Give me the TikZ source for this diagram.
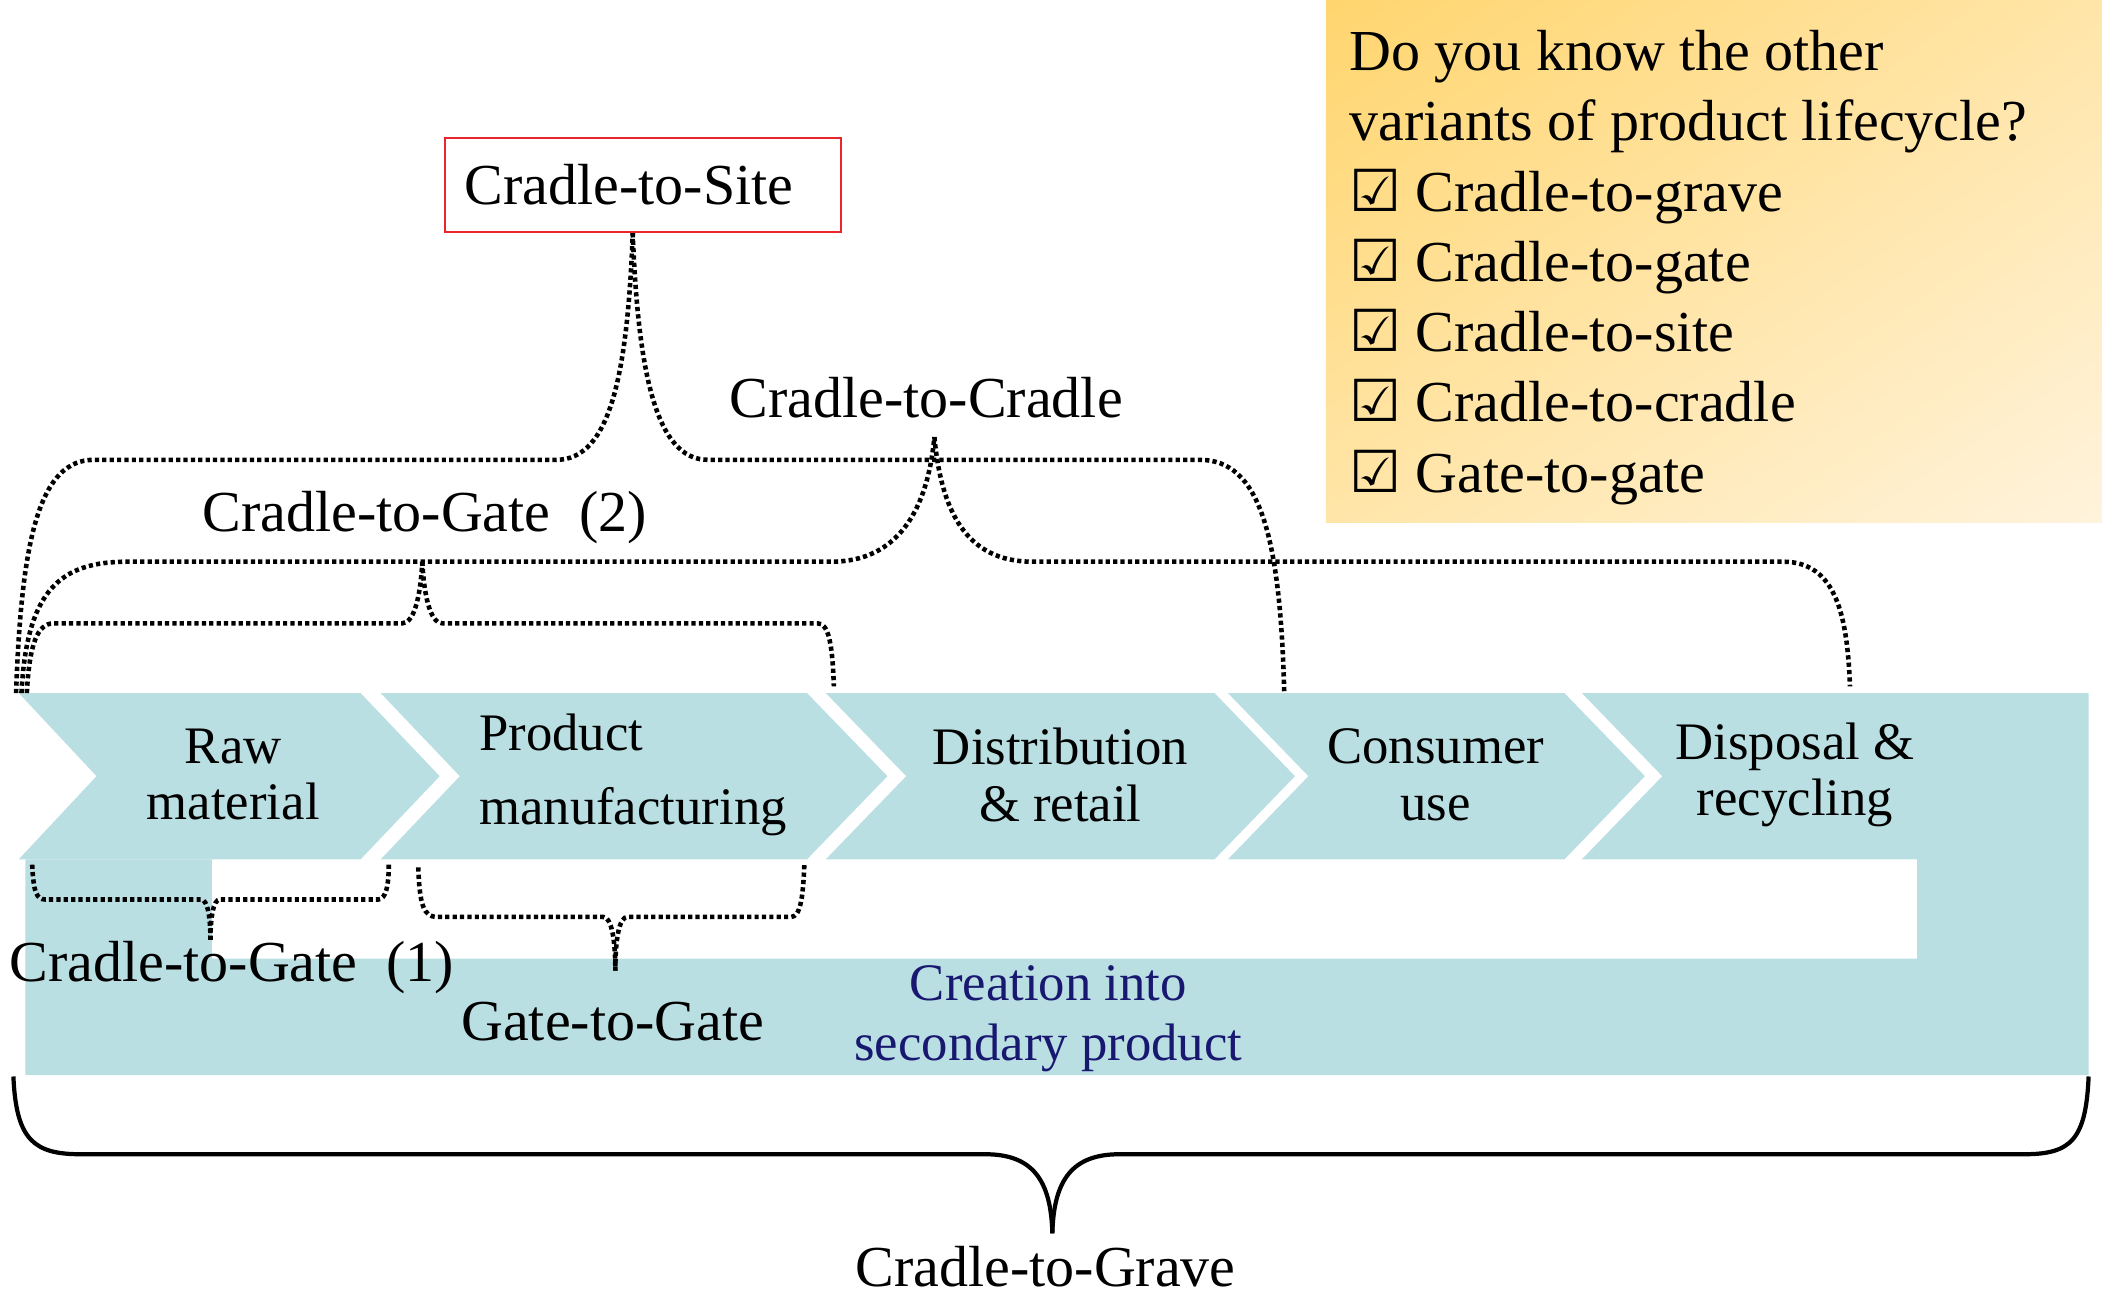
\documentclass[tikz,border=0pt]{standalone}
\usepackage{fontspec}
\setmainfont{Liberation Serif}
\newfontfamily\boxsym{DejaVu Sans}
\usepackage{tikz}
\usetikzlibrary{positioning}
\usetikzlibrary{shadings}
\usepackage{xcolor}
\definecolor{bandteal}{RGB}{186,223,227}
\definecolor{sitered}{RGB}{232,38,44}
\definecolor{navytext}{RGB}{24,24,112}
\definecolor{goldA}{RGB}{255,213,110}
\definecolor{goldB}{RGB}{255,229,168}
\definecolor{goldC}{RGB}{255,243,220}
\tikzset{
  dotbrace/.style={line width=1.3pt, dash pattern=on 1.2pt off 0.9pt},
  lbl/.style={font=\fontsize{16.5}{20}\selectfont, inner sep=0pt},
  stage/.style={font=\fontsize{15}{16}\selectfont, align=center, inner sep=0pt},
}

\begin{document}
\begin{tikzpicture}[x=0.13406mm, y=-0.13406mm]
        \useasboundingbox (0,0) rectangle (1568,969.7);
        % question box
        \shade[upper left=goldA, upper right=goldB, lower left=goldB, lower right=goldC] (989,0) rectangle (1568,390);
        \node[lbl, anchor=north west, align=left] (quiz) at (1006,22) {Do you know the other\\variants of product lifecycle?\\{\boxsym\bfseries ☑} Cradle-to-grave\\{\boxsym\bfseries ☑} Cradle-to-gate\\{\boxsym\bfseries ☑} Cradle-to-site\\{\boxsym\bfseries ☑} Cradle-to-cradle\\{\boxsym\bfseries ☑} Gate-to-gate};
        % life cycle band
        \fill[bandteal] (14,517) -- (269,517) -- (328,579) -- (269,641) -- (14,641) -- (72,579) -- cycle;
        \fill[bandteal] (284,517) -- (602,517) -- (662,579) -- (602,641) -- (284,641) -- (343,579) -- cycle;
        \fill[bandteal] (616,517) -- (906,517) -- (966,579) -- (906,641) -- (616,641) -- (676,579) -- cycle;
        \fill[bandteal] (916,517) -- (1167,517) -- (1227,579) -- (1167,641) -- (916,641) -- (976,579) -- cycle;
        \fill[bandteal] (1180,517) -- (1558,517) -- (1558,802) -- (19,802) -- (19,641) -- (158,641) -- (158,715)
              -- (1430,715) -- (1430,641) -- (1180,641) -- (1240,579) -- cycle;
        \node[stage] (raw) at (174,578) {Raw\\material};
        \node[stage, align=left, font=\fontsize{15}{21}\selectfont, anchor=west] (prod) at (357,578) {Product\\manufacturing};
        \node[stage] (dist) at (791,578) {Distribution\\\& retail};
        \node[stage] (cons) at (1071,578) {Consumer\\use};
        \node[stage] (disp) at (1339,578) {Disposal \&\\recycling};
        \node[stage, text=navytext, font=\fontsize{15}{17}\selectfont] (second) at (782,760) {Creation into\\secondary product};
        % labels
        \node[lbl, draw=sitered, line width=0.7pt, anchor=north west, inner xsep=2mm, text width=35.6mm, minimum height=9.4mm, align=left] (site) at (331,102) {Cradle-to-Site};
        \node[lbl] (ctc) at (691,297) {Cradle-to-Cradle};
        \node[lbl] (gate2) at (317,386) {Cradle-to-Gate\enspace(2)};
        \node[lbl] (gate1) at (173,722) {Cradle-to-Gate\enspace(1)};
        \node[lbl] (g2g) at (457,762) {Gate-to-Gate};
        \node[lbl] (grave) at (780,945) {Cradle-to-Grave};
        % brace tips and ends
        \coordinate (sitetip) at (472,174);
        \coordinate (ctctip) at (697,326);
        \coordinate (gate2tip) at (315,419);
        \coordinate (gate1tip) at (157,701);
        \coordinate (g2gtip) at (459,724);
        \coordinate (gravetip) at (785,920);
        % dotted braces
        \draw[dotbrace] (12,517) .. controls (16,400) and (30,343) .. (70,343) -- (415,343) .. controls (455,343) and (468,280) .. (sitetip);
        \draw[dotbrace] (sitetip) .. controls (476,280) and (490,343) .. (528,343) -- (895,343) .. controls (940,343) and (955,400) .. (958,517);
        \draw[dotbrace] (16,517) .. controls (20,440) and (45,419) .. (95,419) -- (620,419) .. controls (670,419) and (692,380) .. (ctctip);
        \draw[dotbrace] (ctctip) .. controls (702,380) and (720,419) .. (770,419) -- (1330,419) .. controls (1370,419) and (1378,460) .. (1380,512);
        \draw[dotbrace] (20,517) .. controls (22,480) and (28,465) .. (40,465) -- (300,465) .. controls (310,465) and (314,440) .. (gate2tip);
        \draw[dotbrace] (gate2tip) .. controls (316,440) and (320,465) .. (330,465) -- (610,465) .. controls (618,465) and (621,480) .. (622,512);
        \draw[dotbrace] (24,645) .. controls (25,665) and (27,671) .. (34,671) -- (150,671) .. controls (155,671) and (157,685) .. (gate1tip);
        \draw[dotbrace] (gate1tip) .. controls (157,685) and (159,671) .. (164,671) -- (282,671) .. controls (288,671) and (290,660) .. (290,645);
        \draw[dotbrace] (312,647) .. controls (313,675) and (316,684) .. (326,684) -- (450,684) .. controls (456,684) and (459,700) .. (g2gtip);
        \draw[dotbrace] (g2gtip) .. controls (459,700) and (462,684) .. (468,684) -- (590,684) .. controls (597,684) and (599,670) .. (600,645);
        % solid brace
        \draw[line width=1.2pt] (10,803) .. controls (12,850) and (25,861) .. (60,861) -- (735,861) .. controls (770,861) and (784,880) .. (gravetip);
        \draw[line width=1.2pt] (gravetip) .. controls (786,880) and (800,861) .. (835,861) -- (1510,861) .. controls (1545,861) and (1556,850) .. (1558,803);
      \end{tikzpicture}
\end{document}
